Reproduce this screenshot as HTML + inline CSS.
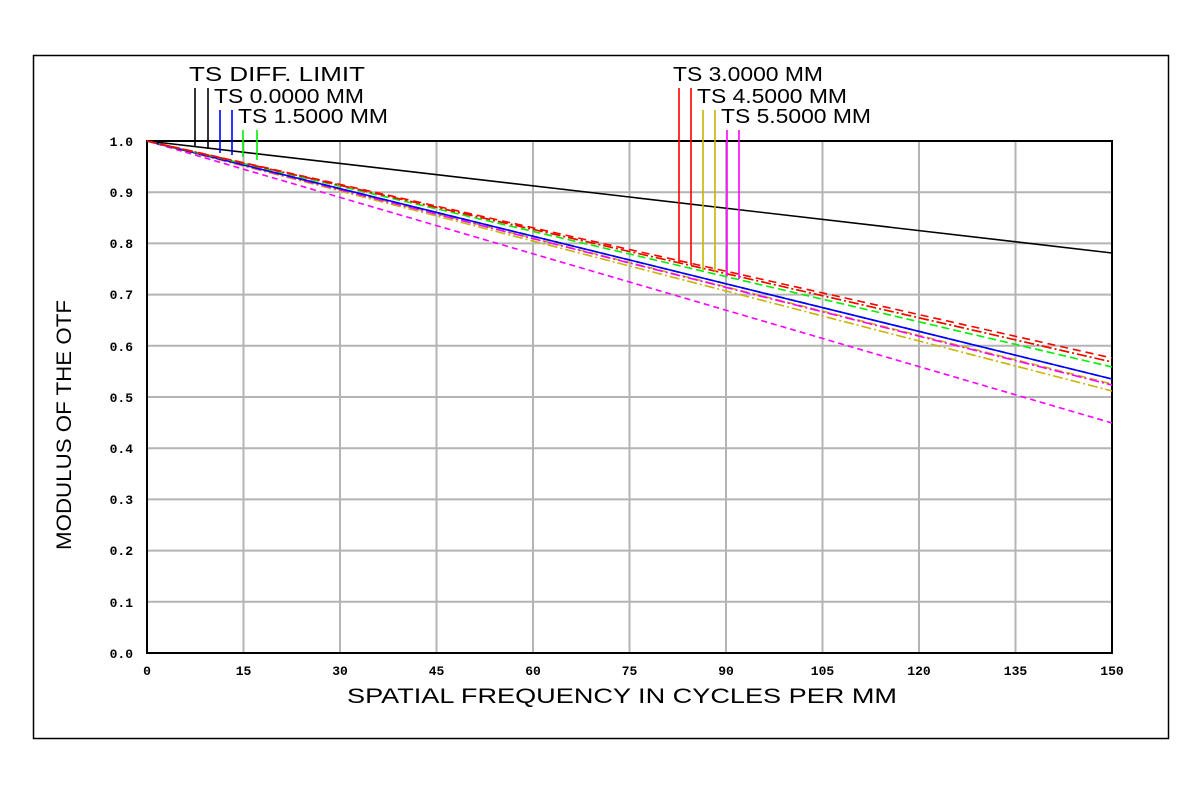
<!DOCTYPE html>
<html><head><style>body{margin:0;background:#fff}</style></head><body>
<svg width="1200" height="802" xmlns="http://www.w3.org/2000/svg" font-family="Liberation Mono, DejaVu Sans Mono, monospace">
<rect x="0" y="0" width="1200" height="802" fill="#fff"/>
<rect x="33.5" y="55.5" width="1135" height="683" fill="none" stroke="#000" stroke-width="1.5"/>
<g stroke="#b4b4b4" stroke-width="2">
<line x1="243.5" y1="141" x2="243.5" y2="653"/><line x1="340" y1="141" x2="340" y2="653"/>
<line x1="436.5" y1="141" x2="436.5" y2="653"/><line x1="533" y1="141" x2="533" y2="653"/>
<line x1="629.5" y1="141" x2="629.5" y2="653"/><line x1="726" y1="141" x2="726" y2="653"/>
<line x1="822.5" y1="141" x2="822.5" y2="653"/><line x1="919" y1="141" x2="919" y2="653"/>
<line x1="1015.5" y1="141" x2="1015.5" y2="653"/>
<line x1="147" y1="192.2" x2="1112" y2="192.2"/><line x1="147" y1="243.4" x2="1112" y2="243.4"/>
<line x1="147" y1="294.6" x2="1112" y2="294.6"/><line x1="147" y1="345.8" x2="1112" y2="345.8"/>
<line x1="147" y1="397" x2="1112" y2="397"/><line x1="147" y1="448.2" x2="1112" y2="448.2"/>
<line x1="147" y1="499.4" x2="1112" y2="499.4"/><line x1="147" y1="550.6" x2="1112" y2="550.6"/>
<line x1="147" y1="601.8" x2="1112" y2="601.8"/>
</g>
<rect x="147" y="141" width="965" height="512" fill="none" stroke="#000" stroke-width="2"/>
<g fill="#000" font-size="13" font-weight="bold" text-anchor="end">
<text x="133" y="146">1.0</text><text x="133" y="197">0.9</text><text x="133" y="248">0.8</text>
<text x="133" y="299">0.7</text><text x="133" y="351">0.6</text><text x="133" y="402">0.5</text>
<text x="133" y="453">0.4</text><text x="133" y="504">0.3</text><text x="133" y="555">0.2</text>
<text x="133" y="607">0.1</text><text x="133" y="658">0.0</text>
</g>
<g fill="#000" font-size="13" font-weight="bold" text-anchor="middle">
<text x="147" y="675">0</text><text x="243.5" y="675">15</text><text x="340" y="675">30</text>
<text x="436.5" y="675">45</text><text x="533" y="675">60</text><text x="629.5" y="675">75</text>
<text x="726" y="675">90</text><text x="822.5" y="675">105</text><text x="919" y="675">120</text>
<text x="1015.5" y="675">135</text><text x="1112" y="675">150</text>
</g>
<g font-family="Liberation Sans, sans-serif" fill="#000">
<text x="347" y="703" font-size="21" textLength="550" lengthAdjust="spacingAndGlyphs">SPATIAL FREQUENCY IN CYCLES PER MM</text>
<text transform="translate(71,550) rotate(-90)" font-size="21" textLength="250" lengthAdjust="spacingAndGlyphs">MODULUS OF THE OTF</text>
</g>
<g fill="none" stroke-width="1.6">
<line x1="147" y1="141" x2="1112" y2="253" stroke="#000"/>
<line x1="147" y1="141" x2="1112" y2="423" stroke="#f0f" stroke-dasharray="6,4"/>
<line x1="147" y1="141" x2="1112" y2="391" stroke="#c8b400" stroke-dasharray="10,3,2,3"/>
<line x1="147" y1="141" x2="1112" y2="384" stroke="#c8b400" stroke-dasharray="8,4"/>
<line x1="147" y1="141" x2="1112" y2="385" stroke="#f0f" stroke-dasharray="10,3,2,3"/>
<line x1="147" y1="141" x2="1112" y2="379" stroke="#00f"/>
<line x1="147" y1="141" x2="1112" y2="379" stroke="#00f" stroke-dasharray="8,4"/>
<line x1="147" y1="141" x2="1112" y2="367" stroke="#0e0" stroke-dasharray="8,4"/>
<line x1="147" y1="141" x2="1112" y2="362" stroke="#0e0" stroke-dasharray="10,3,2,3"/>
<line x1="147" y1="141" x2="1112" y2="362" stroke="#f00" stroke-dasharray="10,3,2,3"/>
<line x1="147" y1="141" x2="1112" y2="358" stroke="#f00" stroke-dasharray="8,5"/>
</g>
<g stroke-width="1.6">
<line x1="195" y1="88" x2="195" y2="147" stroke="#000"/><line x1="208" y1="88" x2="208" y2="149" stroke="#000"/>
<line x1="220" y1="110" x2="220" y2="153" stroke="#00f"/><line x1="232" y1="110" x2="232" y2="155" stroke="#00f"/>
<line x1="243" y1="130" x2="243" y2="157" stroke="#0e0"/><line x1="257" y1="130" x2="257" y2="160" stroke="#0e0"/>
<line x1="679" y1="88" x2="679" y2="262" stroke="#f00"/><line x1="691" y1="88" x2="691" y2="265" stroke="#f00"/>
<line x1="703" y1="110" x2="703" y2="270" stroke="#c8b400"/><line x1="715" y1="110" x2="715" y2="272" stroke="#c8b400"/>
<line x1="727" y1="130" x2="727" y2="276" stroke="#f0f"/><line x1="739" y1="130" x2="739" y2="279" stroke="#f0f"/>
</g>
<g fill="#000" font-size="20" font-family="Liberation Sans, sans-serif">
<text x="189" y="81" textLength="176" lengthAdjust="spacingAndGlyphs">TS DIFF. LIMIT</text>
<text x="214" y="103" textLength="150" lengthAdjust="spacingAndGlyphs">TS 0.0000 MM</text>
<text x="238" y="123" textLength="150" lengthAdjust="spacingAndGlyphs">TS 1.5000 MM</text>
<text x="673" y="81" textLength="150" lengthAdjust="spacingAndGlyphs">TS 3.0000 MM</text>
<text x="697" y="103" textLength="150" lengthAdjust="spacingAndGlyphs">TS 4.5000 MM</text>
<text x="721" y="123" textLength="150" lengthAdjust="spacingAndGlyphs">TS 5.5000 MM</text>
</g>
</svg>
</body></html>
